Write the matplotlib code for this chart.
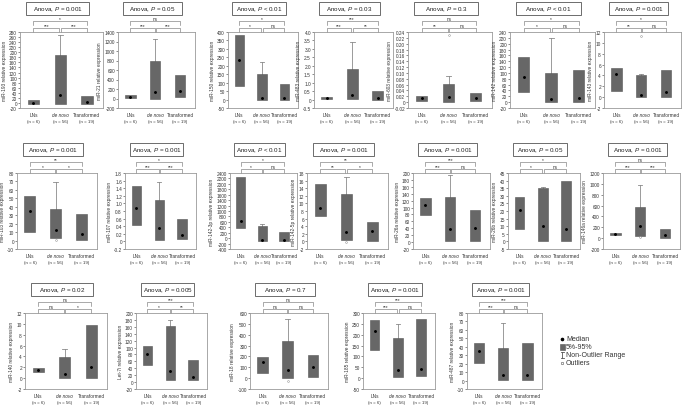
import matplotlib
matplotlib.use("Agg")
import matplotlib.pyplot as plt
from matplotlib.patches import Rectangle
from matplotlib.ticker import MultipleLocator, FuncFormatter
import numpy as np
import math

plt.rcParams["font.family"] = ["Liberation Sans", "DejaVu Sans"]
plt.rcParams["mathtext.fontset"] = "custom"
plt.rcParams["mathtext.rm"] = "Liberation Sans"
plt.rcParams["mathtext.it"] = "Liberation Sans:italic"

# ---------------- data ----------------
groups = ["LNs", "de novo", "Transformed"]
group_n = [6, 56, 19]

mirna = ["miR-193", "miR-21", "miR-150", "miR-483", "miR-603", "miR-142", "miR-143",
         "miR-103", "miR-107", "miR-142-3p", "miR-142-5p", "miR-26a", "miR-26b", "miR-146a",
         "miR-140", "Let-7i", "miR-18", "miR-185", "miR-487"]

anova_p = ["= 0.001", "= 0.05", "< 0.01", "= 0.03", "= 0.3", "< 0.01", "= 0.001",
           "= 0.001", "= 0.001", "< 0.01", "= 0.001", "= 0.001", "= 0.05", "= 0.001",
           "= 0.02", "= 0.005", "= 0.7", "= 0.001", "= 0.001"]

sig_left = ["***", "***", "*", "***", "**", "*", "**",
            "*", "***", "*", "**", "***", "*", "***",
            "ns", "*", "ns", "***", "***"]
sig_right = ["***", "***", "ns", "**", "ns", "ns", "ns",
             "*", "***", "ns", "*", "ns", "ns", "***",
             "*", "**", "ns", "ns", "ns"]
sig_top = ["*", "ns", "*", "***", "ns", "*", "*",
           "**", "*", "*", "**", "***", "*", "ns",
           "ns", "***", "ns", "***", "***"]

y_min = [-20, -200, -50, -0.5, -0.02, -20, -2,
         -10, -0.2, -400, -2, -20, -5, -200,
         -2, -20, -100, -50, -10]
y_max = [280, 1400, 400, 4.0, 0.24, 240, 12,
         80, 1.8, 2400, 18, 200, 45, 1200,
         12, 200, 600, 300, 80]
y_step = [20, 200, 50, 0.5, 0.02, 20, 2,
          10, 0.2, 200, 2, 20, 5, 200,
          2, 20, 100, 50, 10]

# 5%-95% box bottom / top, per group (LNs, de novo, Transformed)
box_lo = [[-6, -3, -3], [15, 0, 30], [79, 0, 0], [0.05, 0.02, 0.0], [0.005, 0.0, 0.003],
          [34, 2, 1], [1.2, 0.05, 0.0],
          [10, 2.8, 1], [0.42, 0.05, 0.06], [380, -100, -100], [6.8, 0.3, 0.2],
          [79, 2, 4], [8.3, 0.1, 0.0], [55, 40, 5],
          [1.07, 0.03, 0.1], [50, 5, 5], [44, 0, 10], [128, 6, 11], [21, 1, 1]]
box_hi = [[12, 188, 28], [65, 790, 490], [380, 150, 90], [0.15, 1.8, 0.52], [0.021, 0.062, 0.031],
          [153, 101, 109], [5.4, 4.0, 5.0],
          [53, 37, 31], [1.46, 1.09, 0.6], [2250, 440, 240], [15, 12.4, 5.1],
          [127, 130, 92], [29.4, 35, 39.7], [100, 577, 167],
          [1.87, 3.83, 9.7], [105, 161, 63], [198, 339, 214], [270, 186, 274], [44, 38, 45]]
# non-outlier range upper end (None = no whisker drawn)
whisker_top = [[None, 267, None], [None, 1250, None], [None, 225, None], [None, 3.38, None],
               [None, 0.09, None], [None, 218, None], [None, 4.2, None],
               [None, 69, None], [None, 1.56, None], [None, 510, None], [None, 16.9, None],
               [None, 193, None], [None, 36, None], [None, 974, None],
               [None, 5.37, None], [None, 181, None], [None, 547, None], [None, 250, None],
               [None, 68, None]]
median = [[0, 30, 2], [40, 140, 150], [236, 12, 10], [0.1, 0.26, 0.1], [0.013, 0.018, 0.013],
          [86, 11, 13], [4.26, 0.46, 0.9],
          [35, 13, 8], [0.88, 0.36, 0.18], [640, -50, -50], [8.7, 2.5, 2.7],
          [108, 38, 40], [20.6, 9.9, 8], [75, 222, 57],
          [1.44, 0.76, 2.0], [81, 31, 16], [145, 76, 107], [216, 37, 41], [35, 7, 6]]
outliers = [[[], [], []], [[], [], []], [[], [], []], [[], [], []], [[], [0.23], []],
            [[], [], []], [[], [11.3], []],
            [[], [1], []], [[], [], []], [[], [], []], [[], [-0.2], []],
            [[], [], []], [[], [], []], [[], [20], []],
            [[], [], []], [[], [], []], [[], [-28], []], [[], [], []], [[], [], []]]

# ---------------- layout (pixels: left, right, top, bottom) ----------------
W, H = 685, 406
panel_px = [(20, 103, 33, 109), (118, 195, 33, 109), (228, 298, 33, 109), (314, 393, 33, 109),
            (408, 492, 33, 109), (510, 595, 33, 109), (604, 681, 33, 109),
            (17, 97, 174, 250), (125, 196, 174, 250), (230, 297, 174, 250), (307, 388, 174, 250),
            (413, 490, 174, 250), (508, 580, 174, 250), (603, 680, 174, 250),
            (25, 107, 314, 390), (136, 207, 314, 390), (250, 328, 314, 390), (363, 435, 314, 390),
            (467, 542, 314, 390)]

fig = plt.figure(figsize=(W / 100, H / 100), dpi=100)
fig.patch.set_facecolor("white")

BOX_C = "#676767"
LINE_C = "#8a8a8a"
FS = 3.4


def make_fmt(step):
    dec = max(0, -int(math.floor(math.log10(step) + 1e-9)))

    def fmt(v, pos):
        if abs(v) < step * 1e-6:
            return "0"
        return ("%." + str(dec) + "f") % v
    return fmt


for k in range(len(mirna)):
    l, r, t, b = panel_px[k]
    ax = fig.add_axes([l / W, 1 - b / H, (r - l) / W, (b - t) / H])
    x = np.arange(3)
    lo = np.array(box_lo[k], dtype=float)
    hi = np.array(box_hi[k], dtype=float)
    ax.bar(x, hi - lo, bottom=lo, width=0.42, color=BOX_C, edgecolor="#555555",
           linewidth=0.4, zorder=2)
    for i in range(3):
        wt = whisker_top[k][i]
        if wt is not None:
            ax.plot([i, i], [hi[i], wt], color=LINE_C, lw=0.6, zorder=1)
            ax.plot([i - 0.09, i + 0.09], [wt, wt], color=LINE_C, lw=0.6, zorder=1)
        if outliers[k][i]:
            ax.plot([i] * len(outliers[k][i]), outliers[k][i], "o", ms=1.3, mfc="white",
                    mec="#777777", mew=0.3, zorder=4)
    ax.plot(x, median[k], "o", ms=1.1, color="black", zorder=3)

    ax.set_xlim(-0.5, 2.6)
    ax.set_ylim(y_min[k], y_max[k])
    ax.yaxis.set_major_locator(MultipleLocator(y_step[k]))
    ax.yaxis.set_major_formatter(FuncFormatter(make_fmt(y_step[k])))
    ax.set_xticks([])
    ax.tick_params(axis="y", labelsize=FS, length=1.2, width=0.4, pad=1, colors="#333333")
    for s in ax.spines.values():
        s.set_color("#9a9a9a")
        s.set_linewidth(0.6)
    ax.set_ylabel(mirna[k] + " relative expression", fontsize=FS, labelpad=1.5, color="#333333")

    # group labels
    xt = ax.get_xaxis_transform()
    for i, g in enumerate(groups):
        ax.text(i, -0.05, g, transform=xt, ha="center", va="top", fontsize=FS,
                style="italic" if g == "de novo" else "normal", color="#333333")
        ax.text(i, -0.14, "(n = %d)" % group_n[i], transform=xt, ha="center", va="top",
                fontsize=FS - 0.2, color="#333333")

    # significance brackets
    def bracket(x0, x1, yl, lab):
        ax.plot([x0, x0, x1, x1], [yl - 0.045, yl, yl, yl - 0.045], transform=xt,
                clip_on=False, color="#7a7a7a", lw=0.45)
        ax.text((x0 + x1) / 2, yl + 0.008, lab, transform=xt, ha="center", va="bottom",
                fontsize=FS, color="#333333")

    bracket(0.0, 0.97, 1.05, sig_left[k])
    bracket(1.03, 2.0, 1.05, sig_right[k])
    bracket(0.0, 2.0, 1.14, sig_top[k])

    # Anova box
    bw = 0.76 * (r - l)
    cx = (l + r) / 2 - 4
    y_top = t - 30
    y_bot = t - 17
    fig.add_artist(Rectangle(((cx - bw / 2) / W, 1 - y_bot / H), bw / W, (y_bot - y_top) / H,
                             transform=fig.transFigure, facecolor="white",
                             edgecolor="#555555", lw=0.6))
    fig.text(cx / W, 1 - (y_top + y_bot) / 2 / H, r"Anova, $\mathit{P}$ " + anova_p[k],
             ha="center", va="center", fontsize=4.5, color="#222222")

# ---------------- legend ----------------
lax = fig.add_axes([555 / W, 1 - 370 / H, 80 / W, 36 / H])
lax.set_xlim(0, 80)
lax.set_ylim(36, 0)
lax.axis("off")
rows_y = [6, 14, 22, 30]
lax.plot([7], [rows_y[0]], "o", ms=1.6, color="black")
lax.add_patch(Rectangle((4.5, rows_y[1] - 3), 5, 6, facecolor=BOX_C, edgecolor="#555555", lw=0.4))
lax.plot([7, 7], [rows_y[2] - 3, rows_y[2] + 3], color="#555555", lw=0.6)
lax.plot([5.5, 8.5], [rows_y[2] - 3, rows_y[2] - 3], color="#555555", lw=0.6)
lax.plot([5.5, 8.5], [rows_y[2] + 3, rows_y[2] + 3], color="#555555", lw=0.6)
lax.plot([7], [rows_y[3]], "o", ms=1.8, mfc="white", mec="#555555", mew=0.4)
for yy, txt in zip(rows_y, ["Median", "5%-95%", "Non-Outlier Range", "Outliers"]):
    lax.text(11, yy, txt, va="center", ha="left", fontsize=5, color="#333333")

fig.savefig("out.png", dpi=100, facecolor="white")
